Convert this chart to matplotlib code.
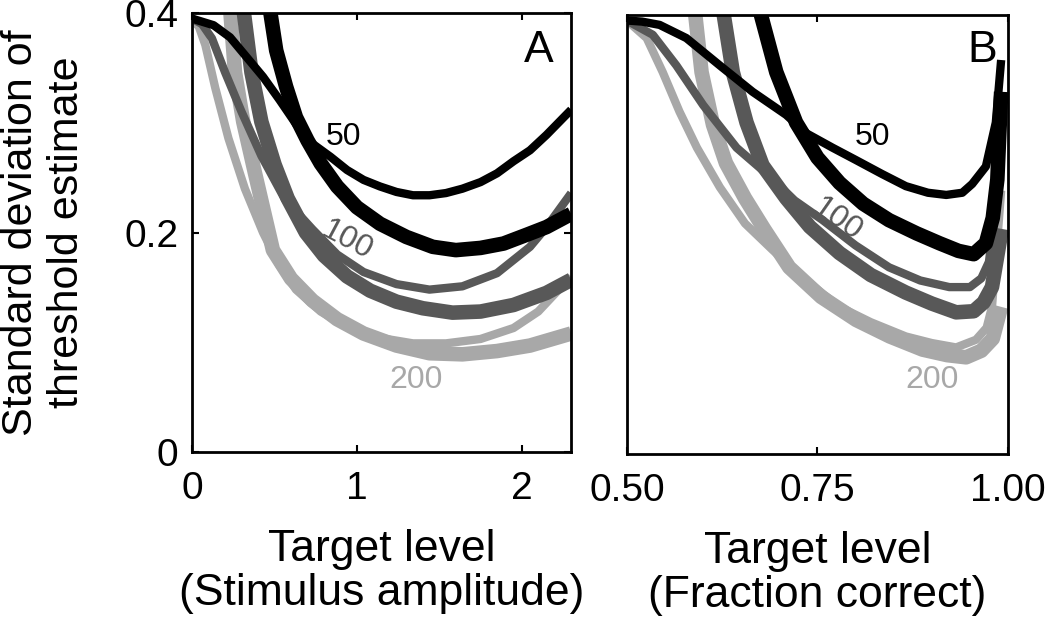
import matplotlib
matplotlib.use('Agg')
import matplotlib.pyplot as plt

plt.rcParams['font.family'] = ['Liberation Sans', 'DejaVu Sans']

# ── Colours / widths for the two curve families per trial count ─────────────
C50, C100, C200 = '#000000', '#585858', '#a8a8a8'
LW_THIN, LW_THICK = 6.0, 10.5

# ── Panel A: target level as stimulus amplitude ─────────────────────────────
a50_thin_x = [0.0, 0.13, 0.23, 0.33, 0.43, 0.53, 0.63, 0.73, 0.84, 0.94, 1.04, 1.14, 1.24,
              1.34, 1.44, 1.54, 1.64, 1.75, 1.85, 1.95, 2.05, 2.15, 2.30]
a50_thin_y = [0.395, 0.389, 0.378, 0.360, 0.342, 0.321, 0.299, 0.281, 0.269, 0.257, 0.248, 0.242,
              0.237, 0.234, 0.234, 0.236, 0.240, 0.246, 0.254, 0.265, 0.275, 0.289, 0.312]
a50_thick_x = [0.47, 0.51, 0.57, 0.63, 0.70, 0.78, 0.88, 1.00, 1.14, 1.30, 1.46, 1.60, 1.75,
               1.89, 2.03, 2.15, 2.30]
a50_thick_y = [0.405, 0.366, 0.333, 0.305, 0.284, 0.263, 0.242, 0.223, 0.208, 0.196, 0.187, 0.184,
               0.186, 0.190, 0.198, 0.205, 0.217]

a100_thin_x = [0.0, 0.06, 0.12, 0.20, 0.30, 0.42, 0.56, 0.73, 0.88, 1.04, 1.24, 1.44, 1.64,
               1.85, 2.05, 2.15, 2.30]
a100_thin_y = [0.395, 0.390, 0.377, 0.346, 0.310, 0.270, 0.231, 0.203, 0.180, 0.164, 0.153, 0.148,
               0.151, 0.163, 0.187, 0.205, 0.236]
a100_thick_x = [0.31, 0.36, 0.42, 0.50, 0.58, 0.69, 0.80, 0.94, 1.08, 1.24, 1.40, 1.58, 1.75,
                1.95, 2.15, 2.30]
a100_thick_y = [0.405, 0.346, 0.301, 0.262, 0.231, 0.200, 0.179, 0.160, 0.147, 0.137, 0.131, 0.127,
                0.128, 0.134, 0.145, 0.157]

a200_thin_x = [0.0, 0.04, 0.08, 0.14, 0.22, 0.32, 0.43, 0.53, 0.63, 0.78, 0.94, 1.14, 1.34,
               1.54, 1.75, 1.95, 2.10, 2.30]
a200_thin_y = [0.393, 0.388, 0.371, 0.332, 0.286, 0.240, 0.200, 0.170, 0.148, 0.128, 0.114, 0.104,
               0.099, 0.099, 0.103, 0.113, 0.128, 0.160]
a200_thick_x = [0.23, 0.26, 0.31, 0.38, 0.49, 0.60, 0.73, 0.88, 1.04, 1.24, 1.44, 1.64, 1.85,
                2.05, 2.30]
a200_thick_y = [0.405, 0.346, 0.301, 0.255, 0.184, 0.158, 0.138, 0.121, 0.108, 0.097, 0.090, 0.089,
                0.092, 0.097, 0.108]

# ── Panel B: target level as fraction correct ───────────────────────────────
b50_thin_x = [0.50, 0.52, 0.543, 0.578, 0.622, 0.665, 0.709, 0.736, 0.77, 0.80, 0.835, 0.866,
              0.895, 0.919, 0.94, 0.953, 0.971, 0.984, 0.991]
b50_thin_y = [0.395, 0.394, 0.391, 0.379, 0.354, 0.330, 0.309, 0.292, 0.279, 0.268, 0.255, 0.244,
              0.238, 0.236, 0.238, 0.246, 0.262, 0.302, 0.359]
b50_thick_x = [0.674, 0.696, 0.722, 0.75, 0.779, 0.81, 0.844, 0.88, 0.910, 0.935, 0.955, 0.971,
               0.980, 0.986, 0.991]
b50_thick_y = [0.405, 0.348, 0.302, 0.270, 0.247, 0.228, 0.213, 0.201, 0.192, 0.185, 0.182, 0.192,
               0.215, 0.250, 0.330]

b100_thin_x = [0.50, 0.534, 0.565, 0.60, 0.644, 0.689, 0.72, 0.757, 0.80, 0.844, 0.885, 0.923,
               0.95, 0.965, 0.975, 0.984, 0.991]
b100_thin_y = [0.395, 0.382, 0.354, 0.318, 0.279, 0.252, 0.231, 0.213, 0.190, 0.170, 0.158, 0.152,
               0.152, 0.160, 0.175, 0.225, 0.307]
b100_thick_x = [0.626, 0.639, 0.657, 0.678, 0.709, 0.74, 0.779, 0.82, 0.866, 0.90, 0.932, 0.955,
                0.968, 0.979, 0.988, 0.992]
b100_thick_y = [0.405, 0.348, 0.302, 0.263, 0.233, 0.207, 0.183, 0.163, 0.147, 0.137, 0.129, 0.130,
                0.138, 0.152, 0.189, 0.205]

b200_thin_x = [0.50, 0.526, 0.547, 0.569, 0.592, 0.622, 0.655, 0.691, 0.735, 0.779, 0.82, 0.866,
               0.90, 0.932, 0.958, 0.972, 0.979, 0.986, 0.991]
b200_thin_y = [0.395, 0.379, 0.348, 0.312, 0.279, 0.243, 0.210, 0.186, 0.158, 0.134, 0.120, 0.107,
               0.101, 0.097, 0.104, 0.115, 0.134, 0.195, 0.240]
b200_thick_x = [0.589, 0.598, 0.613, 0.630, 0.655, 0.68, 0.713, 0.755, 0.801, 0.845, 0.888, 0.92,
                0.945, 0.965, 0.98, 0.991]
b200_thick_y = [0.405, 0.348, 0.300, 0.265, 0.233, 0.205, 0.170, 0.143, 0.122, 0.107, 0.095, 0.090,
                0.088, 0.094, 0.105, 0.134]

fig = plt.figure(figsize=(10.5, 6.26), dpi=100)
axA = fig.add_axes([0.183, 0.278, 0.361, 0.701])
axB = fig.add_axes([0.597, 0.275, 0.363, 0.701])

panelA = [(a50_thin_x, a50_thin_y, C50, LW_THIN), (a50_thick_x, a50_thick_y, C50, LW_THICK),
          (a100_thin_x, a100_thin_y, C100, LW_THIN), (a100_thick_x, a100_thick_y, C100, LW_THICK),
          (a200_thin_x, a200_thin_y, C200, LW_THIN), (a200_thick_x, a200_thick_y, C200, LW_THICK)]
panelB = [(b50_thin_x, b50_thin_y, C50, LW_THIN), (b50_thick_x, b50_thick_y, C50, LW_THICK),
          (b100_thin_x, b100_thin_y, C100, LW_THIN), (b100_thick_x, b100_thick_y, C100, LW_THICK),
          (b200_thin_x, b200_thin_y, C200, LW_THIN), (b200_thick_x, b200_thick_y, C200, LW_THICK)]

# light grey first so the black curves sit on top
for ax, curves in [(axA, panelA), (axB, panelB)]:
    for xs, ys, col, lw in reversed(curves):
        ax.plot(xs, ys, color=col, linewidth=lw, solid_capstyle='butt',
                solid_joinstyle='round')

axA.set_xlim(0, 2.3)
axA.set_ylim(0, 0.4)
axA.set_xticks([0, 1, 2])
axA.set_xticklabels(['0', '1', '2'])
axA.set_yticks([0, 0.2, 0.4])
axA.set_yticklabels(['0', '0.2', '0.4'])

axB.set_xlim(0.5, 1.0)
axB.set_ylim(0, 0.4)
axB.set_xticks([0.5, 0.75, 1.0])
axB.set_xticklabels(['0.50', '0.75', '1.00'])
axB.set_yticks([])

for ax in (axA, axB):
    for sp in ax.spines.values():
        sp.set_linewidth(2.0)
    ax.tick_params(direction='in', length=5, width=1.5, top=True, right=True,
                   labelsize=28)
    ax.tick_params(axis='x', pad=14)
    ax.tick_params(axis='y', pad=10)

axA.set_xlabel('Target level\n(Stimulus amplitude)', fontsize=32, linespacing=1.1)
axB.set_xlabel('Target level\n(Fraction correct)', fontsize=32, linespacing=1.1)
axA.xaxis.set_label_coords(0.5, -0.175)
axB.xaxis.set_label_coords(0.5, -0.175)
axA.set_ylabel('Standard deviation of\nthreshold estimate', fontsize=31, linespacing=1.2)
axA.yaxis.set_label_coords(-0.277, 0.5)

# curve labels
axA.text(0.92, 0.287, '50', color=C50, fontsize=23, ha='center', va='center')
axA.text(0.94, 0.193, '100', color=C100, fontsize=23, ha='center', va='center', rotation=-28)
axA.text(1.36, 0.066, '200', color=C200, fontsize=23, ha='center', va='center')
axA.text(2.1, 0.366, 'A', fontsize=32, ha='center', va='center')

axB.text(0.822, 0.289, '50', color=C50, fontsize=23, ha='center', va='center')
axB.text(0.776, 0.213, '100', color=C100, fontsize=23, ha='center', va='center', rotation=-35)
axB.text(0.90, 0.067, '200', color=C200, fontsize=23, ha='center', va='center')
axB.text(0.966, 0.368, 'B', fontsize=32, ha='center', va='center')

fig.savefig('out.png', dpi=100)
